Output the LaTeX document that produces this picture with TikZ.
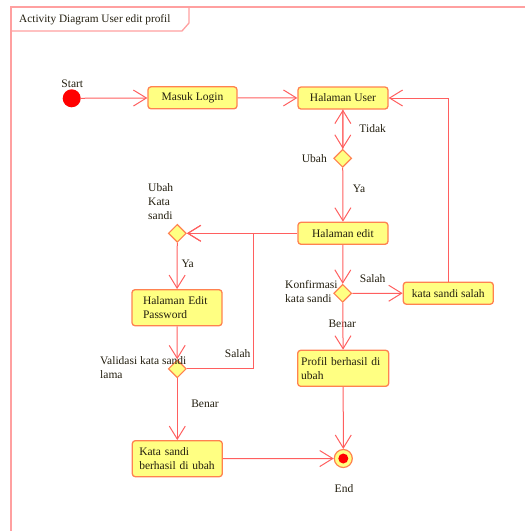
\documentclass[tikz,border=0pt]{standalone}
\usepackage{fontspec}
\setmainfont{Liberation Serif}
\usetikzlibrary{arrows.meta,shapes.geometric}
\definecolor{frameclr}{RGB}{255,160,160}
\definecolor{lineclr}{RGB}{255,95,95}
\definecolor{boxline}{RGB}{255,130,80}
\definecolor{boxfill}{RGB}{255,255,130}
\definecolor{txt}{RGB}{35,30,15}
\tikzset{
  flow/.style={draw=lineclr, line width=1pt, -{Straight Barb[length=13pt,width=16pt]}},
  act/.style={draw=boxline, fill=boxfill, rounded corners=3pt, line width=1.3pt,
    minimum width=90pt, minimum height=22pt, inner sep=0pt, text=txt,
    font=\fontsize{11.5}{14}\selectfont},
  actml/.style={act, minimum height=36pt, align=left},
  decision/.style={diamond, draw=boxline, fill=boxfill, line width=1.2pt,
    minimum width=18pt, minimum height=18pt, inner sep=0pt, aspect=1},
  lbl/.style={text=txt, inner sep=0pt, font=\fontsize{11.5}{14}\selectfont},
}
\begin{document}
\begin{tikzpicture}[x=1pt,y=-1pt]
\useasboundingbox (0,0) rectangle (525,531);

% frame and title tab
\draw[frameclr, line width=1.3pt] (11,531) -- (11,7) -- (525,7);
\draw[frameclr, line width=1.3pt] (11,31) -- (182,31) -- (189,23) -- (189,7);
\node[lbl, anchor=west, font=\fontsize{11.3}{13}\selectfont] (title) at (19,20) {Activity Diagram User edit profil};

% initial and final nodes
\node[circle, fill=red, minimum size=18pt, inner sep=0pt] (start) at (71.7,98.3) {};
\node[lbl] (startlbl) at (72.3,84) {Start};
\node[circle, draw=boxline, fill=boxfill, line width=1.2pt, minimum size=18pt, inner sep=0pt] (end) at (343.3,458.5) {};
\node[circle, fill=red, minimum size=10pt, inner sep=0pt] (endcore) at (end) {};
\node[lbl] (endlbl) at (344,489) {End};

% actions
\node[act, minimum width=89pt] (login) at (192.5,97.8) {Masuk Login};
\node[act] (huser) at (343,98) {Halaman User};
\node[act] (hedit) at (343,233.3) {Halaman edit};
\node[actml, text width=68pt] (hpass) at (177,307.7) {Halaman Edit\\Password};
\node[actml, text width=76pt] (kok) at (177.3,458.7) {Kata sandi\\berhasil di ubah};
\node[actml, minimum width=91pt, text width=84pt] (profil) at (343.2,368.3) {Profil berhasil di\\ubah};
\node[act] (kss) at (448.3,293.2) {kata sandi salah};

% decisions
\node[decision] (ubah) at (342.7,158.3) {};
\node[decision] (dks) at (177.3,233.3) {};
\node[decision] (val) at (177.3,368.8) {};
\node[decision] (konf) at (342.7,293.3) {};

% decision labels
\node[lbl, anchor=east] (ubahlbl) at (327,158.7) {Ubah};
\node[lbl, anchor=north west, align=left] (dkslbl) at (148,183) {Ubah\\Kata\\sandi};
\node[lbl, anchor=north west, align=left] (vallbl) at (100,356) {Validasi kata sandi\\lama};
\node[lbl, anchor=north west, align=left] (konflbl) at (285,280) {Konfirmasi\\kata sandi};

% guard labels
\node[lbl] (gtidak) at (372.7,129) {Tidak};
\node[lbl] (gya1) at (359,188.3) {Ya};
\node[lbl] (gya2) at (187.7,264) {Ya};
\node[lbl] (gsalah1) at (237.7,354) {Salah};
\node[lbl] (gbenar1) at (205,403.3) {Benar};
\node[lbl] (gsalah2) at (372.7,279) {Salah};
\node[lbl] (gbenar2) at (342.3,323.3) {Benar};

% junction of the two paths into the password decision
\coordinate (jn) at (253.3,233.3);

% flows
\draw[flow] (start) -- (login);
\draw[flow] (login) -- (huser);
\draw[flow] (huser) -- (ubah);
\draw[flow] (ubah) -- (huser);
\draw[flow] (ubah) -- (hedit);
\draw[flow] (hedit) -- (dks.east);
\draw[flow] (dks) -- (hpass);
\draw[flow] (hpass) -- (val);
\draw[flow] (val.east) -| (jn) -- (dks.east);
\draw[flow] (val) -- (kok);
\draw[flow] (kok) -- (end);
\draw[flow] (hedit) -- (konf);
\draw[flow] (konf) -- (kss);
\draw[flow] (kss.north) |- (huser.east);
\draw[flow] (konf) -- (profil);
\draw[flow] (profil) -- (end);
\end{tikzpicture}
\end{document}
